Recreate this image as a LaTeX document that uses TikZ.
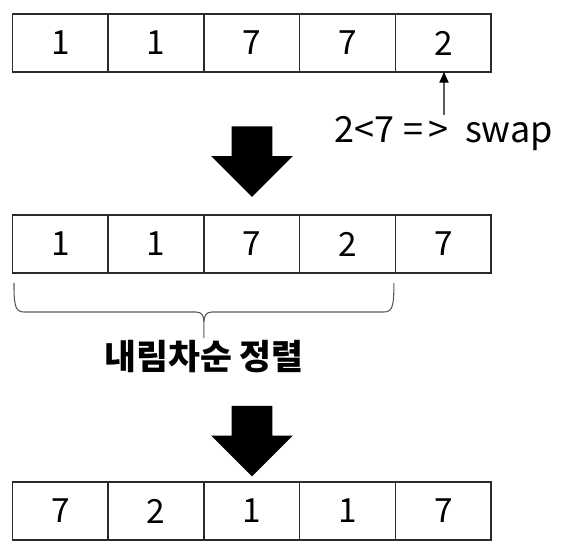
\documentclass[tikz,border=0pt]{standalone}
\usepackage{fontspec}
\setmainfont{Noto Sans CJK KR}
\usepackage{tikz}
\usetikzlibrary{arrows.meta,positioning,shapes.arrows,calc}
\definecolor{edge}{HTML}{2B2B2B}
\definecolor{thin}{HTML}{5A5A5A}

\begin{document}
\begin{tikzpicture}[
  x=0.75pt, y=-0.75pt,
  font=\fontsize{25}{30}\selectfont, >=Latex,
  cell/.style={draw=edge, line width=1.2pt, minimum width=71.8pt, minimum height=43.5pt, inner sep=0pt, outer sep=0pt},
  bigarrow/.style={single arrow, fill=black, draw=none, shape border rotate=270, inner sep=15pt, single arrow head extend=15.4pt, minimum height=53pt},
  lbl/.style={inner sep=1pt, align=center},
  brc/.style={draw=thin, line width=0.8pt},
]
\useasboundingbox (0,0) rectangle (583,560);

% Before swap
\node[cell] (a1) at (60.35,43) {1};
\node[cell, right=0pt of a1] (a2) {1};
\node[cell, right=0pt of a2] (a3) {7};
\node[cell, right=0pt of a3] (a4) {7};
\node[cell, right=0pt of a4] (a5) {2};

\node[lbl, font=\fontsize{27}{32}\selectfont] (swap) at (444,134) {2<7 =\,> \ swap};
\draw[draw=thin, line width=0.8pt, -{Triangle[width=7pt,length=8pt]}, arrows={[color=black]}]
  (swap.north) -- (swap.north |- a5.south);

\node[bigarrow] (down1) at (252,151.5) {};

% After swap
\node[cell] (b1) at (60.35,244) {1};
\node[cell, right=0pt of b1] (b2) {1};
\node[cell, right=0pt of b2] (b3) {7};
\node[cell, right=0pt of b3] (b4) {2};
\node[cell, right=0pt of b4] (b5) {7};

% Brace under the first four
\coordinate (bl) at ($(b1.south west)+(1.5,10)$);
\coordinate (br) at ($(b4.south east)+(-1.5,10)$);
\coordinate (bm) at ($(bl)!.5!(br)+(0,29)$);
\draw[brc] (bl) .. controls ($(bl)+(0,22)$) and ($(bl)+(1,29)$) .. ($(bl)+(10,29)$)
  -- ($(bm)+(-8,0)$) .. controls ($(bm)+(-2,0)$) and ($(bm)+(0,4)$) .. ($(bm)+(0,10)$)
  -- ($(bm)+(0,26)$);
\draw[brc] (br) .. controls ($(br)+(0,22)$) and ($(br)+(-1,29)$) .. ($(br)+(-10,29)$)
  -- ($(bm)+(8,0)$) .. controls ($(bm)+(2,0)$) and ($(bm)+(0,4)$) .. ($(bm)+(0,10)$);
\node[lbl, font=\fontsize{26}{30}\selectfont\bfseries] (sortlbl) at (204,357) {내림차순 정렬};

\node[bigarrow] (down2) at (252,431) {};

% Result
\node[cell] (c1) at (60.35,511) {7};
\node[cell, right=0pt of c1] (c2) {2};
\node[cell, right=0pt of c2] (c3) {1};
\node[cell, right=0pt of c3] (c4) {1};
\node[cell, right=0pt of c4] (c5) {7};

\end{tikzpicture}
\end{document}
